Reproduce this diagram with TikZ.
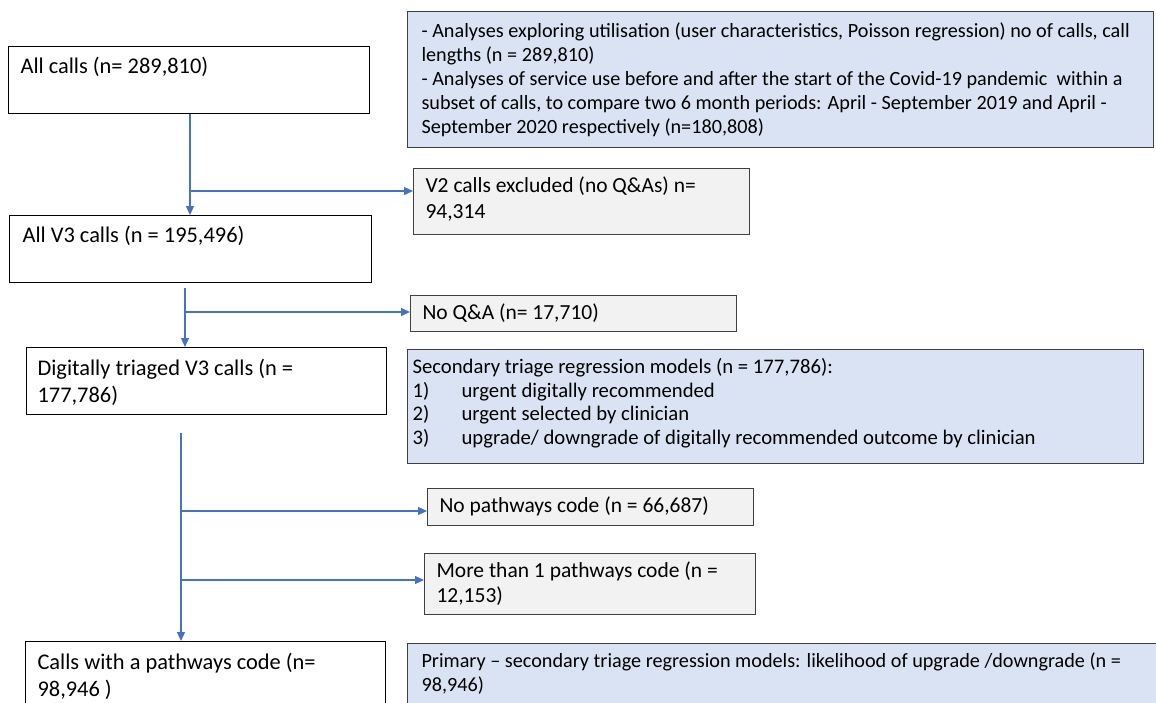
\documentclass[tikz,border=0pt]{standalone}
\usepackage{fontspec}
\setmainfont{Carlito}
\usetikzlibrary{arrows.meta}

\definecolor{flowblue}{HTML}{4472C4}
\definecolor{notefill}{HTML}{DAE3F3}
\definecolor{exclfill}{HTML}{F2F2F2}
\definecolor{edgegrey}{HTML}{3F3F3F}

% fixed-size, top-aligned text block: width, height, font size, baselineskip, text
\newcommand\blocktext[5]{%
  \parbox[c][#2][t]{#1}{\fontsize{#3}{#4}\selectfont\raggedright\strut #5}}
% numbered item with a hanging tab
\newcommand\numitem[2]{\makebox[49pt][l]{#1}#2}

\begin{document}
\begin{tikzpicture}[x=1pt,y=-1pt,
  stage/.style={draw=black, line width=1.1pt, fill=white, inner sep=0pt, anchor=north west},
  excl/.style={draw=edgegrey, line width=1.1pt, fill=exclfill, inner sep=0pt, anchor=north west},
  note/.style={draw=edgegrey, line width=1.1pt, fill=notefill, inner sep=0pt, anchor=north west},
  conn/.style={draw=flowblue, line width=1.2pt, -{Triangle[length=9pt,width=8pt]}}]
\useasboundingbox (0,0) rectangle (1156,702);
\clip (0,0) rectangle (1156,702);

% main stages of the selection
\node[stage, inner xsep=12pt, inner ysep=8pt] (all) at (8,46)
  {\blocktext{337pt}{51pt}{22.4pt}{27pt}{All calls (n= 289,810)}};
\node[stage, inner xsep=13pt, inner ysep=8pt] (v3) at (9,215)
  {\blocktext{336pt}{51pt}{22.4pt}{27pt}{All V3 calls (n = 195,496)}};
\node[stage, inner xsep=11pt, inner ysep=9pt] (dig) at (26,347)
  {\blocktext{338pt}{49pt}{22.4pt}{27pt}{Digitally triaged V3 calls (n =\\177,786)}};
\node[stage, inner xsep=12pt, inner ysep=9pt] (path) at (25,641)
  {\blocktext{336pt}{60pt}{22.4pt}{27pt}{Calls with a pathways code (n=\\98,946 )}};

% exclusions
\node[excl, inner xsep=12pt, inner ysep=6pt] (v2) at (413,168)
  {\blocktext{312pt}{54pt}{21.5pt}{26pt}{V2 calls excluded (no Q\&As) n=\\94,314}};
\node[excl, inner xsep=12pt, inner ysep=6pt] (noqa) at (410,295)
  {\blocktext{302pt}{24pt}{21.5pt}{26pt}{No Q\&A (n= 17,710)}};
\node[excl, inner xsep=12pt, inner ysep=6pt] (nopw) at (427,488)
  {\blocktext{302pt}{25pt}{21.5pt}{26pt}{No pathways code (n = 66,687)}};
\node[excl, inner xsep=12pt, inner ysep=6pt] (multi) at (424,553)
  {\blocktext{307pt}{49pt}{21.5pt}{25pt}{More than 1 pathways code (n =\\12,153)}};

% analyses carried out at each stage
\node[note, inner xsep=14pt, inner ysep=9pt] (utl) at (407,11)
  {\blocktext{718pt}{118pt}{20.2pt}{24pt}{- Analyses exploring utilisation (user characteristics, Poisson regression) no of calls, call\\
  lengths (n = 289,810)\\
  - Analyses of service use before and after the start of the Covid-19 pandemic \ within a\\
  subset of calls, to compare two 6 month periods: April - September 2019 and April -\\
  September 2020 respectively (n=180,808)}};
\node[note, inner xsep=5pt, inner ysep=7.5pt] (sec) at (407,349)
  {\blocktext{726pt}{99pt}{20.7pt}{23.5pt}{Secondary triage regression models (n = 177,786):\\
  \numitem{1)}{urgent digitally recommended}\\
  \numitem{2)}{urgent selected by clinician}\\
  \numitem{3)}{upgrade/ downgrade of digitally recommended outcome by clinician}}};
\node[note, inner xsep=14pt, inner ysep=7.2pt] (prim) at (407,643)
  {\blocktext{732pt}{60pt}{20.2pt}{24pt}{Primary – secondary triage regression models: likelihood of upgrade /downgrade (n =\\98,946)}};

% connectors
\coordinate (j1) at (190,191);
\draw[conn] (all.south -| j1) -- (v3.north -| j1);
\draw[conn] (j1) -- (j1 -| v2.west);

\coordinate (s2) at (185,288);
\coordinate (j2) at (185,312);
\draw[conn] (s2) -- (s2 |- dig.north);
\draw[conn] (j2) -- (j2 -| noqa.west);

\coordinate (s3) at (181,433);
\coordinate (j3) at (181,511);
\coordinate (j4) at (181,580);
\draw[conn] (s3) -- (s3 |- path.north);
\draw[conn] (j3) -- (j3 -| nopw.west);
\draw[conn] (j4) -- (j4 -| multi.west);
\end{tikzpicture}
\end{document}
